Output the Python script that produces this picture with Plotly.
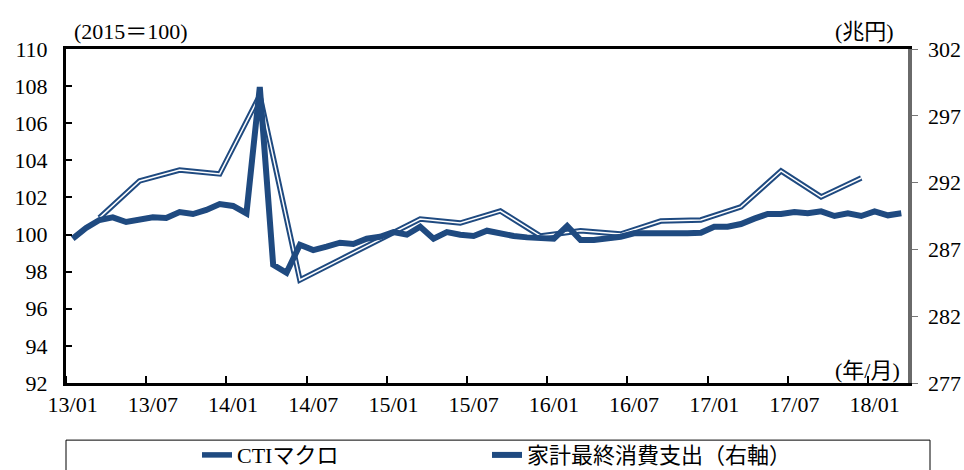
import plotly.graph_objects as go

# Monthly categories 2013/01 - 2018/03
months = [f"{y:02d}/{m:02d}" for y in range(13, 19) for m in range(1, 13)][:63]

# Household final consumption expenditure (trillion yen, right axis), monthly
household = [
    287.8, 288.6, 289.2, 289.4, 289.05, 289.2, 289.4, 289.35, 289.8, 289.65,
    289.95, 290.4, 290.25, 289.7, 299.15, 285.85, 285.25, 287.35, 286.95, 287.2,
    287.5, 287.4, 287.8, 287.95, 288.3, 288.1, 288.7, 287.8, 288.3, 288.1,
    288.0, 288.4, 288.15, 288.0, 287.9, 287.8, 287.8, 288.75, 287.7, 287.7,
    287.8, 287.95, 288.2, 288.2, 288.1, 288.2, 288.2, 288.25, 288.7, 288.7,
    288.9, 289.3, 289.65, 289.65, 289.8, 289.7, 289.85, 289.5, 289.7, 289.5,
    289.85, 289.55, 289.7,
]

# CTI macro (2015=100), quarterly, plotted at quarter-end months
cti_months = ["13/03", "13/06", "13/09", "13/12", "14/03", "14/06", "14/09", "14/12",
              "15/03", "15/06", "15/09", "15/12", "16/03", "16/06", "16/09", "16/12",
              "17/03", "17/06", "17/09", "17/12"]
cti = [100.9, 102.89, 103.48, 103.27, 107.5, 97.55, 98.65, 99.75,
       100.84, 100.62, 101.27, 99.92, 100.2, 100.03, 100.73, 100.79,
       101.49, 103.43, 102.03, 103.05]

tick_labels = ["13/01", "13/07", "14/01", "14/07", "15/01", "15/07",
               "16/01", "16/07", "17/01", "17/07", "18/01"]

BLUE = "#1f4a80"
FONT = "Liberation Serif, 'Noto Sans CJK JP', serif"
FS = 22
NBSP = "\u00a0"

x_house = [months.index(m) for m in months]
x_cti = [months.index(m) for m in cti_months]

fig = go.Figure()

# CTI drawn as a double line: blue stroke with a thin white core
fig.add_trace(go.Scatter(
    x=x_cti, y=cti, mode="lines", name="CTIマクロ",
    line=dict(color=BLUE, width=5.5),
))
fig.add_trace(go.Scatter(
    x=x_cti, y=cti, mode="lines", showlegend=False, hoverinfo="skip",
    line=dict(color="white", width=1.5),
))
fig.add_trace(go.Scatter(
    x=x_house, y=household, mode="lines", name="家計最終消費支出（右軸）",
    line=dict(color=BLUE, width=6), yaxis="y2",
))

n = len(months)
fig.update_layout(
    width=964, height=470,
    margin=dict(l=66, r=56, t=49, b=87, autoexpand=False),
    paper_bgcolor="white", plot_bgcolor="white",
    font=dict(family=FONT, size=FS, color="black"),
    xaxis=dict(
        range=[-0.5, n - 0.5],
        tickmode="array",
        tickvals=[months.index(t) for t in tick_labels],
        ticktext=tick_labels,
        ticks="",
        showgrid=False, zeroline=False,
        showline=True, linecolor="black", linewidth=3, mirror=True,
        minor=dict(
            tickmode="array",
            tickvals=[months.index(t) - 0.5 for t in tick_labels],
            ticks="inside", ticklen=7, tickwidth=1.5, tickcolor="black",
            showgrid=False,
        ),
        tickfont=dict(size=FS),
    ),
    yaxis=dict(
        range=[92, 110], dtick=2, tick0=92,
        ticks="inside", ticklen=6, tickwidth=1.5, tickcolor="black",
        ticksuffix=NBSP * 2,
        showgrid=False, zeroline=False,
        showline=True, linecolor="black", linewidth=3,
        tickfont=dict(size=FS),
    ),
    yaxis2=dict(
        range=[277, 302], dtick=5, tick0=277,
        overlaying="y", side="right",
        ticks="outside", ticklen=6, tickwidth=1, tickcolor="#777777",
        tickprefix=NBSP,
        showgrid=False, zeroline=False,
        showline=True, linecolor="#6a6a6a", linewidth=4,
        tickfont=dict(size=FS),
    ),
    showlegend=True,
    legend=dict(
        orientation="h", x=0.5, xanchor="center", y=-0.153, yanchor="top",
        font=dict(size=FS), bgcolor="rgba(0,0,0,0)",
        entrywidth=245, entrywidthmode="pixels",
    ),
    shapes=[dict(
        type="rect", xref="paper", yref="paper",
        x0=0, x1=(930 - 66) / 842, y0=-0.171, y1=-0.3,
        line=dict(color="black", width=1), fillcolor="rgba(0,0,0,0)",
    )],
    annotations=[
        dict(text="(2015＝100)", xref="paper", yref="paper", x=(72 - 66) / 842, y=1.051,
             xanchor="left", yanchor="middle", showarrow=False, font=dict(size=FS)),
        dict(text="(兆円)", xref="paper", yref="paper", x=(896 - 66) / 842, y=1.051,
             xanchor="right", yanchor="middle", showarrow=False, font=dict(size=FS)),
        dict(text="(年/月)", xref="paper", yref="paper", x=(902 - 66) / 842, y=0.036,
             xanchor="right", yanchor="middle", showarrow=False, font=dict(size=FS)),
    ],
)

fig.write_html("out.html")
